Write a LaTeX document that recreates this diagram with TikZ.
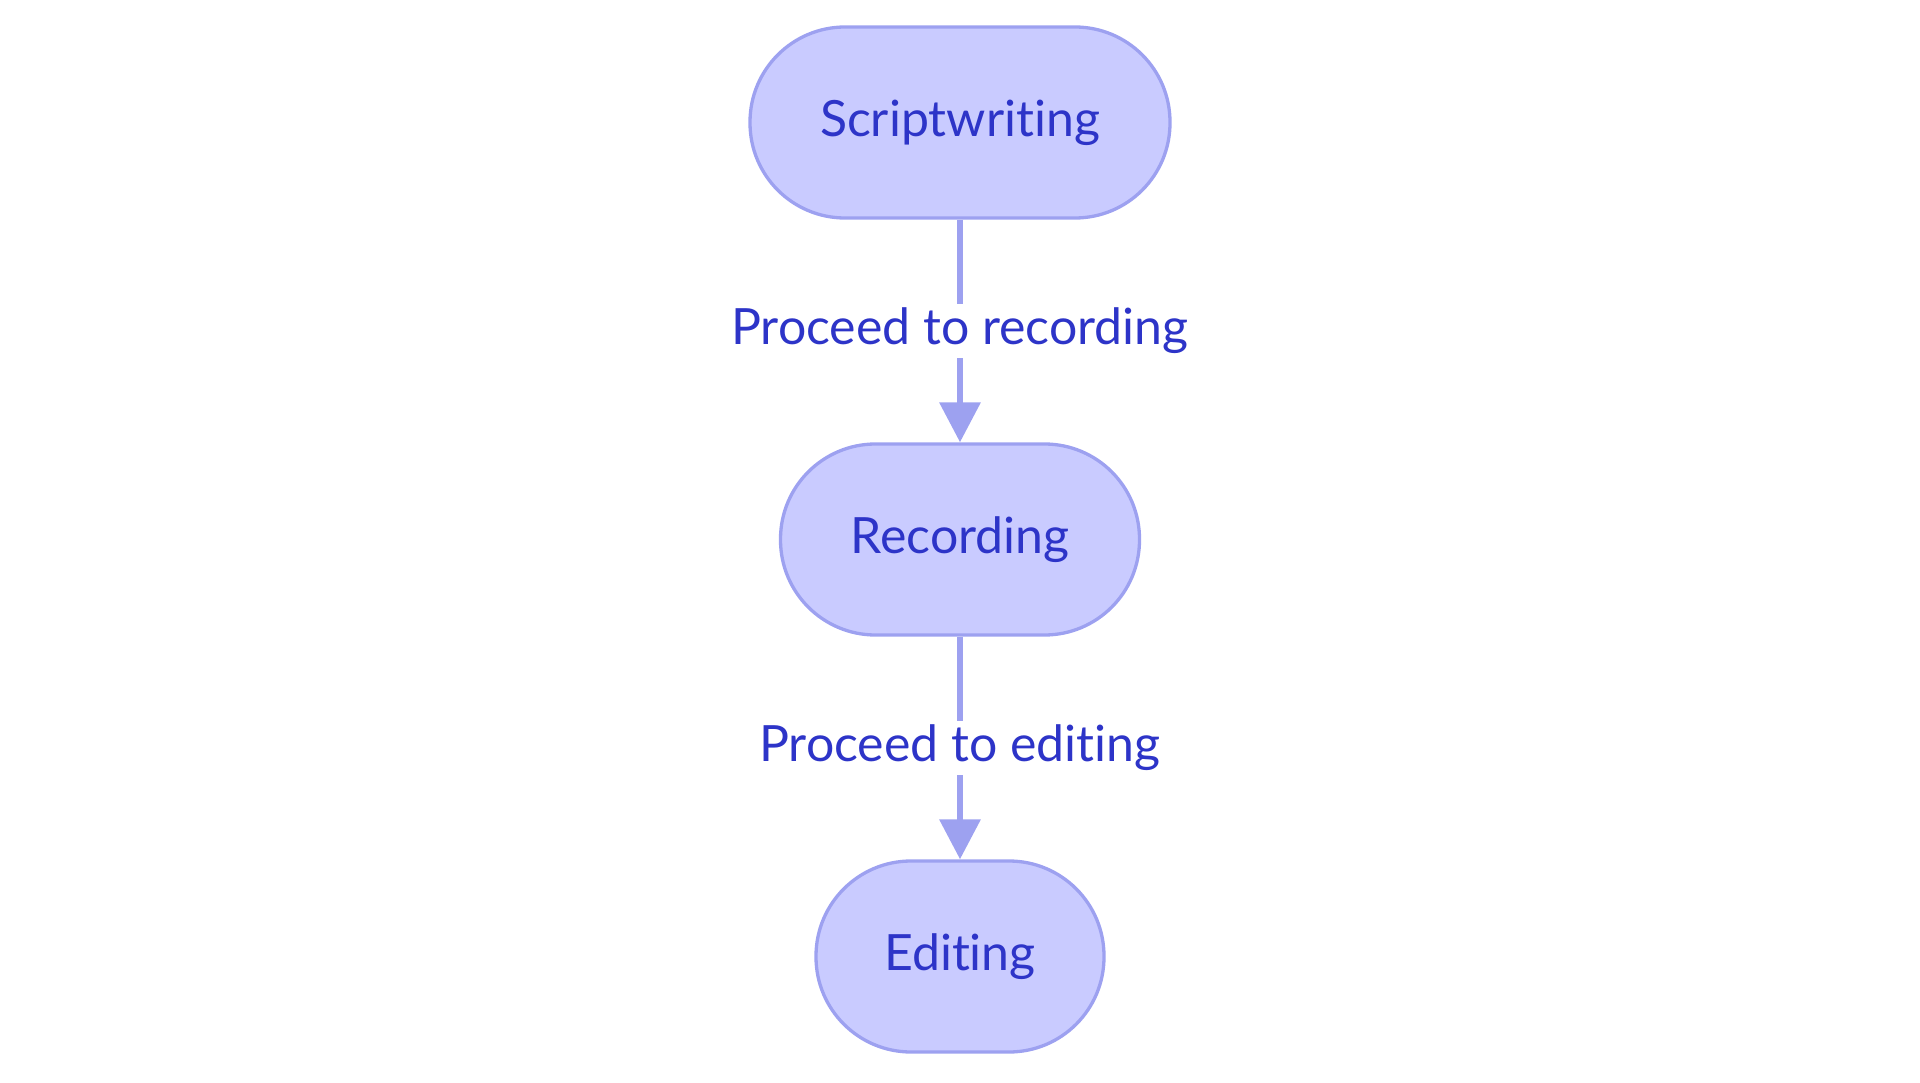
\documentclass[tikz,border=0pt]{standalone}
\usepackage{fontspec}
\setmainfont{Lato}[Ligatures={NoCommon}]
\usetikzlibrary{arrows.meta}
\definecolor{nodefill}{RGB}{201,203,255}
\definecolor{nodeline}{RGB}{157,161,240}
\definecolor{txt}{RGB}{45,52,200}
\begin{document}
\begin{tikzpicture}[x=1pt,y=-1pt,
  stadium/.style={draw=nodeline,fill=nodefill,line width=3.3pt,rounded corners=95pt,
    minimum height=191pt,inner sep=0pt,text=txt,font=\fontsize{50}{60}\selectfont},
  flow/.style={draw=nodeline,line width=6.5pt,-{Triangle[length=40pt,width=40pt]}},
  elabel/.style={fill=white,text=txt,inner sep=4pt,font=\fontsize{50}{60}\selectfont}]
\useasboundingbox (0,0) rectangle (1920,1083);
\node[stadium,minimum width=420pt] (s) at (960,122.5) {Scriptwriting};
\node[stadium,minimum width=359pt] (r) at (960,539.5) {Recording};
\node[stadium,minimum width=288pt] (e) at (960,956.5) {Editing};
\draw[flow] (s) -- node[elabel]{Proceed to recording} (r);
\draw[flow] (r) -- node[elabel]{Proceed to editing} (e);
\end{tikzpicture}
\end{document}
